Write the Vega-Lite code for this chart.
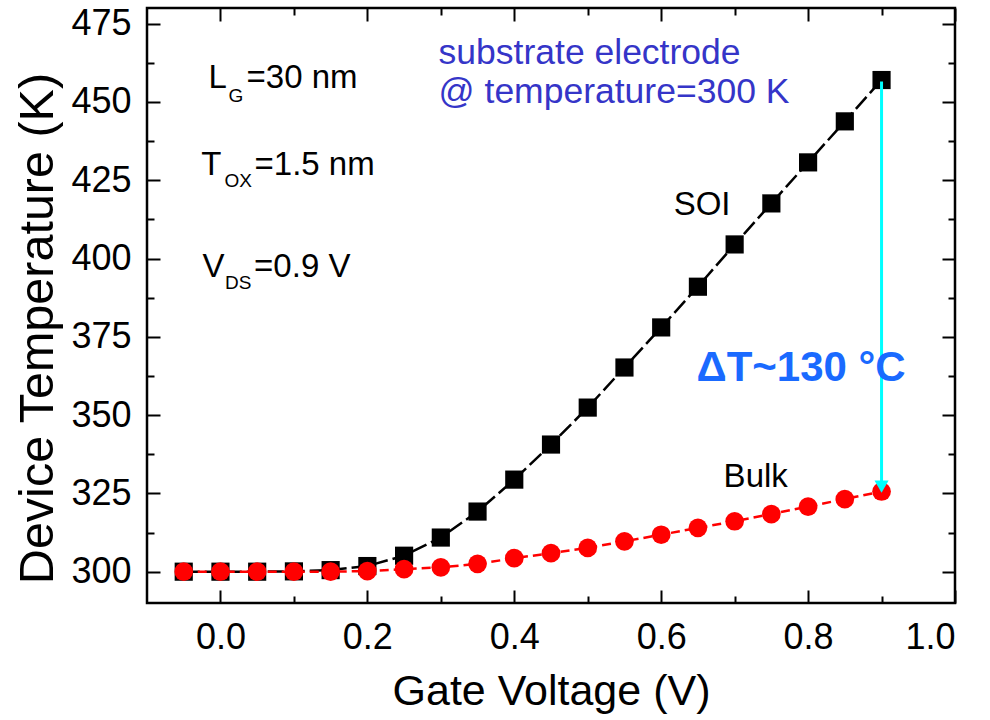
{
  "$schema": "https://vega.github.io/schema/vega-lite/v6.json",
  "width": 808,
  "height": 595,
  "autosize": {"type": "none"},
  "padding": {"left": 147, "top": 8, "right": 35, "bottom": 117},
  "background": "white",
  "config": {
    "font": "Liberation Sans",
    "view": {"stroke": "black", "strokeWidth": 2.5},
    "axis": {"domain": false, "grid": false, "tickColor": "black", "tickWidth": 2, "labelColor": "black", "titleColor": "black", "labelFont": "Liberation Sans", "titleFont": "Liberation Sans", "titleFontWeight": "normal", "labelFontSize": 36, "titleFontSize": 43, "titleLimit": 2000}
  },
  "datasets": {
    "temps": [
      {"vg": -0.05, "device": "SOI", "temp": 300.0},
      {"vg": 0.0, "device": "SOI", "temp": 300.0},
      {"vg": 0.05, "device": "SOI", "temp": 300.0},
      {"vg": 0.1, "device": "SOI", "temp": 300.1},
      {"vg": 0.15, "device": "SOI", "temp": 300.5},
      {"vg": 0.2, "device": "SOI", "temp": 301.8},
      {"vg": 0.25, "device": "SOI", "temp": 305.1},
      {"vg": 0.3, "device": "SOI", "temp": 310.9},
      {"vg": 0.35, "device": "SOI", "temp": 319.2},
      {"vg": 0.4, "device": "SOI", "temp": 329.4},
      {"vg": 0.45, "device": "SOI", "temp": 340.6},
      {"vg": 0.5, "device": "SOI", "temp": 352.4},
      {"vg": 0.55, "device": "SOI", "temp": 365.2},
      {"vg": 0.6, "device": "SOI", "temp": 378.0},
      {"vg": 0.65, "device": "SOI", "temp": 391.0},
      {"vg": 0.7, "device": "SOI", "temp": 404.5},
      {"vg": 0.75, "device": "SOI", "temp": 417.6},
      {"vg": 0.8, "device": "SOI", "temp": 430.7},
      {"vg": 0.85, "device": "SOI", "temp": 443.8},
      {"vg": 0.9, "device": "SOI", "temp": 457.0},
      {"vg": -0.05, "device": "Bulk", "temp": 300.0},
      {"vg": 0.0, "device": "Bulk", "temp": 300.0},
      {"vg": 0.05, "device": "Bulk", "temp": 300.0},
      {"vg": 0.1, "device": "Bulk", "temp": 300.0},
      {"vg": 0.15, "device": "Bulk", "temp": 300.0},
      {"vg": 0.2, "device": "Bulk", "temp": 300.2},
      {"vg": 0.25, "device": "Bulk", "temp": 300.8},
      {"vg": 0.3, "device": "Bulk", "temp": 301.4},
      {"vg": 0.35, "device": "Bulk", "temp": 302.5},
      {"vg": 0.4, "device": "Bulk", "temp": 304.3},
      {"vg": 0.45, "device": "Bulk", "temp": 305.9},
      {"vg": 0.5, "device": "Bulk", "temp": 307.6},
      {"vg": 0.55, "device": "Bulk", "temp": 309.7},
      {"vg": 0.6, "device": "Bulk", "temp": 311.8},
      {"vg": 0.65, "device": "Bulk", "temp": 314.0},
      {"vg": 0.7, "device": "Bulk", "temp": 316.1},
      {"vg": 0.75, "device": "Bulk", "temp": 318.4},
      {"vg": 0.8, "device": "Bulk", "temp": 320.8},
      {"vg": 0.85, "device": "Bulk", "temp": 323.2},
      {"vg": 0.9, "device": "Bulk", "temp": 325.6}
    ],
    "notes": [
      {"text": "L", "x": -0.0164, "y": 454.3, "kind": "main"},
      {"text": "G", "x": 0.0109, "y": 450.0, "kind": "sub"},
      {"text": "=30 nm", "x": 0.0355, "y": 454.3, "kind": "main"},
      {"text": "T", "x": -0.026, "y": 426.6, "kind": "main"},
      {"text": "OX", "x": 0.0055, "y": 422.8, "kind": "sub"},
      {"text": "=1.5 nm", "x": 0.0464, "y": 426.6, "kind": "main"},
      {"text": "V", "x": -0.0246, "y": 394.0, "kind": "main"},
      {"text": "DS", "x": 0.0061, "y": 390.2, "kind": "sub"},
      {"text": "=0.9 V", "x": 0.0458, "y": 394.0, "kind": "main"},
      {"text": "SOI", "x": 0.617, "y": 413.8, "kind": "main"},
      {"text": "Bulk", "x": 0.685, "y": 327.2, "kind": "main"},
      {"text": "substrate electrode\n@ temperature=300 K", "x": 0.297, "y": 462.1, "kind": "blue"},
      {"text": "ΔT~130 °C", "x": 0.648, "y": 360.8, "kind": "delta"}
    ],
    "arrow": [
      {"vg": 0.9, "top": 456.5, "bottom": 328.5, "head": 327.2}
    ]
  },
  "layer": [
    {
      "data": {"name": "temps"},
      "transform": [{"filter": "datum.device === 'SOI'"}],
      "mark": {"type": "line", "color": "black", "strokeWidth": 2.5, "strokeDash": [16, 5]},
      "encoding": {
        "x": {"field": "vg", "type": "quantitative", "scale": {"domain": [-0.1, 1.0], "nice": false, "zero": false},
          "axis": {"orient": "bottom", "values": [0, 0.2, 0.4, 0.6, 0.8, 1.0], "format": ".1f", "tickSize": -13, "labelPadding": 30, "title": "Gate Voltage (V)", "titleY": 101, "titleBaseline": "alphabetic"}},
        "y": {"field": "temp", "type": "quantitative", "scale": {"domain": [290, 480], "nice": false, "zero": false},
          "axis": {"orient": "left", "values": [300, 325, 350, 375, 400, 425, 450, 475], "format": "d", "tickSize": -13, "labelPadding": 29, "title": "Device Temperature (K)", "titleFontSize": 48.5, "titleX": -95, "titleY": 320, "titleBaseline": "alphabetic"}}
      }
    },
    {
      "data": {"name": "temps"},
      "transform": [{"filter": "datum.device === 'SOI'"}],
      "mark": {"type": "point", "shape": "square", "filled": true, "color": "black", "size": 330, "opacity": 1},
      "encoding": {
        "x": {"field": "vg", "type": "quantitative", "scale": {"domain": [-0.1, 1.0], "nice": false, "zero": false},
          "axis": {"orient": "bottom", "values": [0.1, 0.3, 0.5, 0.7, 0.9], "labels": false, "tickSize": -7, "title": null}},
        "y": {"field": "temp", "type": "quantitative", "scale": {"domain": [290, 480], "nice": false, "zero": false},
          "axis": {"orient": "left", "values": [312.5, 337.5, 362.5, 387.5, 412.5, 437.5, 462.5], "labels": false, "tickSize": -7, "title": null}}
      }
    },
    {
      "data": {"name": "temps"},
      "transform": [{"filter": "datum.device === 'Bulk'"}],
      "mark": {"type": "line", "color": "#ff0000", "strokeWidth": 2.5, "strokeDash": [9, 5]},
      "encoding": {
        "x": {"field": "vg", "type": "quantitative", "scale": {"domain": [-0.1, 1.0], "nice": false, "zero": false},
          "axis": {"orient": "top", "values": [0, 0.2, 0.4, 0.6, 0.8, 1.0], "labels": false, "tickSize": -13, "title": null}},
        "y": {"field": "temp", "type": "quantitative", "scale": {"domain": [290, 480], "nice": false, "zero": false},
          "axis": {"orient": "right", "values": [300, 325, 350, 375, 400, 425, 450, 475], "labels": false, "tickSize": -13, "title": null}}
      }
    },
    {
      "data": {"name": "temps"},
      "transform": [{"filter": "datum.device === 'Bulk'"}],
      "mark": {"type": "point", "shape": "circle", "filled": true, "color": "#ff0000", "size": 350, "opacity": 1},
      "encoding": {
        "x": {"field": "vg", "type": "quantitative", "scale": {"domain": [-0.1, 1.0], "nice": false, "zero": false},
          "axis": {"orient": "top", "values": [0.1, 0.3, 0.5, 0.7, 0.9], "labels": false, "tickSize": -7, "title": null}},
        "y": {"field": "temp", "type": "quantitative", "scale": {"domain": [290, 480], "nice": false, "zero": false},
          "axis": {"orient": "right", "values": [312.5, 337.5, 362.5, 387.5, 412.5, 437.5, 462.5], "labels": false, "tickSize": -7, "title": null}}
      }
    },
    {
      "data": {"name": "arrow"},
      "mark": {"type": "rule", "color": "#00ffff", "strokeWidth": 3},
      "encoding": {
        "x": {"field": "vg", "type": "quantitative", "axis": null},
        "y": {"field": "top", "type": "quantitative", "axis": null},
        "y2": {"field": "bottom"}
      }
    },
    {
      "data": {"name": "arrow"},
      "mark": {"type": "point", "shape": "triangle-down", "filled": true, "color": "#00ffff", "size": 200, "opacity": 1},
      "encoding": {
        "x": {"field": "vg", "type": "quantitative", "axis": null},
        "y": {"field": "head", "type": "quantitative", "axis": null}
      }
    },
    {
      "data": {"name": "notes"},
      "transform": [{"filter": "datum.kind === 'main'"}],
      "mark": {"type": "text", "align": "left", "baseline": "alphabetic", "fontSize": 33, "color": "black", "font": "Liberation Sans"},
      "encoding": {
        "x": {"field": "x", "type": "quantitative", "axis": null},
        "y": {"field": "y", "type": "quantitative", "axis": null},
        "text": {"field": "text"}
      }
    },
    {
      "data": {"name": "notes"},
      "transform": [{"filter": "datum.kind === 'sub'"}],
      "mark": {"type": "text", "align": "left", "baseline": "alphabetic", "fontSize": 19, "color": "black", "font": "Liberation Sans"},
      "encoding": {
        "x": {"field": "x", "type": "quantitative", "axis": null},
        "y": {"field": "y", "type": "quantitative", "axis": null},
        "text": {"field": "text"}
      }
    },
    {
      "data": {"name": "notes"},
      "transform": [{"filter": "datum.kind === 'blue'"}],
      "mark": {"type": "text", "align": "left", "baseline": "alphabetic", "fontSize": 35.5, "lineBreak": "\n", "lineHeight": 39, "color": "#3535c8", "font": "Liberation Sans"},
      "encoding": {
        "x": {"field": "x", "type": "quantitative", "axis": null},
        "y": {"field": "y", "type": "quantitative", "axis": null},
        "text": {"field": "text"}
      }
    },
    {
      "data": {"name": "notes"},
      "transform": [{"filter": "datum.kind === 'delta'"}],
      "mark": {"type": "text", "align": "left", "baseline": "alphabetic", "fontSize": 42, "fontWeight": "bold", "color": "#1a6aff", "font": "Liberation Sans"},
      "encoding": {
        "x": {"field": "x", "type": "quantitative", "axis": null},
        "y": {"field": "y", "type": "quantitative", "axis": null},
        "text": {"field": "text"}
      }
    }
  ],
  "resolve": {"axis": {"x": "independent", "y": "independent"}}
}
